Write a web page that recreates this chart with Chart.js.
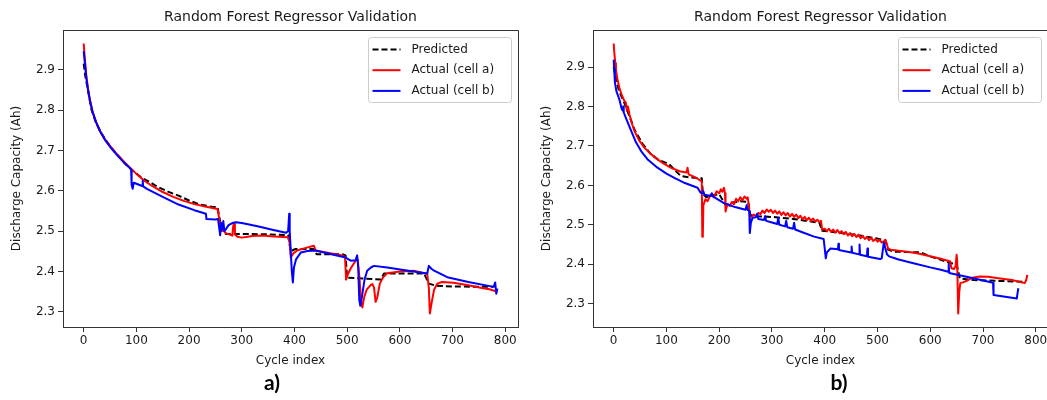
<!DOCTYPE html>
<html>
<head>
<meta charset="utf-8">
<title>Random Forest Regressor Validation</title>
<script src="https://cdn.jsdelivr.net/npm/chart.js@4.4.1/dist/chart.umd.min.js"></script>
<style>
  html, body { margin: 0; padding: 0; background: #fff; overflow: hidden; }
  #wrap { position: relative; width: 1047px; height: 400px; overflow: hidden; }
  canvas { position: absolute; top: 0; }
  #panelA { left: 0; }
  #panelB { left: 530px; }
</style>
</head>
<body>
<div id="wrap">
  <canvas id="panelA" width="530" height="400"></canvas>
  <canvas id="panelB" width="520" height="400"></canvas>
</div>
<script>
// ---- shared labels ----
const chartTitle = 'Random Forest Regressor Validation';
const xAxisTitle = 'Cycle index';
const yAxisTitle = 'Discharge Capacity (Ah)';
const seriesNames = ['Predicted', 'Actual (cell a)', 'Actual (cell b)'];
const panelTags = ['a)', 'b)'];
const xTicks = [0, 100, 200, 300, 400, 500, 600, 700, 800];
const yTicks = [2.3, 2.4, 2.5, 2.6, 2.7, 2.8, 2.9];

// ---- panel a: [cycle, capacity Ah] ----
const predictedA = [
  [0,2.915],[3,2.885],[8,2.85],[15,2.8],[23,2.77],[35,2.74],[50,2.71],[65,2.688],[80,2.665],
  [95,2.648],[110,2.632],[128,2.62],[140,2.61],[160,2.598],[180,2.588],[200,2.576],[220,2.566],
  [245,2.56],[254,2.56],[258,2.53],[263,2.5],[270,2.493],[311,2.493],[355,2.492],[388,2.49],
  [393,2.45],[402,2.456],[437,2.456],[442,2.443],[491,2.443],[497,2.44],[500,2.385],[564,2.38],
  [570,2.395],[646,2.395],[655,2.37],[668,2.365],[700,2.363],[778,2.362]
];
const cellA_A = [
  [0,2.965],[2,2.93],[5,2.885],[8,2.855],[12,2.825],[17,2.795],[23,2.772],[30,2.75],[40,2.728],
  [52,2.708],[65,2.688],[78,2.67],[90,2.655],[100,2.642],[115,2.625],[130,2.612],[150,2.597],
  [170,2.585],[190,2.575],[210,2.567],[230,2.561],[254,2.555],[256,2.54],[259,2.515],[262,2.505],
  [270,2.495],[282,2.489],[284,2.515],[286,2.518],[287,2.492],[292,2.486],[300,2.484],[320,2.488],
  [340,2.489],[360,2.487],[388,2.485],[391,2.47],[393,2.435],[398,2.445],[405,2.452],[420,2.458],
  [437,2.464],[440,2.452],[460,2.447],[491,2.44],[496,2.435],[498,2.38],[502,2.395],[507,2.408],
  [516,2.427],[520,2.43],[523,2.39],[527,2.32],[529,2.311],[532,2.335],[537,2.355],[545,2.367],
  [548,2.369],[551,2.36],[554,2.325],[557,2.335],[562,2.37],[568,2.385],[576,2.396],[600,2.4],
  [627,2.402],[652,2.394],[655,2.36],[657,2.296],[660,2.32],[665,2.355],[671,2.37],[680,2.374],
  [702,2.372],[730,2.366],[753,2.36],[770,2.356],[785,2.35]
];
const cellB_A = [
  [0,2.946],[2,2.92],[5,2.88],[8,2.852],[12,2.822],[17,2.795],[23,2.772],[30,2.75],[40,2.727],
  [52,2.706],[65,2.686],[78,2.668],[88,2.656],[90,2.652],[91,2.615],[93,2.605],[95,2.62],[105,2.615],
  [111,2.612],[112,2.625],[113,2.611],[120,2.605],[150,2.585],[180,2.566],[210,2.552],[232,2.543],
  [233,2.53],[250,2.529],[255,2.53],[257,2.51],[259,2.49],[261,2.52],[263,2.505],[265,2.525],
  [267,2.5],[270,2.505],[275,2.515],[282,2.52],[289,2.522],[300,2.52],[330,2.512],[360,2.503],
  [384,2.496],[388,2.5],[390,2.543],[391,2.5],[393,2.45],[395,2.4],[397,2.373],[399,2.41],
  [403,2.43],[412,2.447],[425,2.451],[440,2.452],[470,2.443],[497,2.435],[500,2.432],[507,2.427],
  [516,2.428],[519,2.44],[521,2.41],[523,2.33],[525,2.315],[529,2.345],[533,2.38],[538,2.402],
  [545,2.41],[551,2.414],[576,2.41],[610,2.403],[652,2.395],[655,2.414],[660,2.407],[665,2.402],
  [690,2.386],[730,2.374],[778,2.362],[781,2.373],[783,2.345],[785,2.358]
];

// ---- panel b: [cycle, capacity Ah] ----
const predictedB = [
  [0,2.9],[3,2.88],[10,2.84],[20,2.81],[30,2.775],[40,2.74],[55,2.705],[70,2.68],[85,2.665],
  [105,2.654],[115,2.64],[127,2.624],[145,2.62],[167,2.618],[169,2.58],[175,2.57],[190,2.575],
  [200,2.578],[212,2.55],[220,2.555],[240,2.56],[255,2.558],[259,2.525],[270,2.522],[300,2.52],
  [340,2.515],[390,2.505],[395,2.485],[430,2.48],[470,2.472],[500,2.465],[515,2.46],[520,2.437],
  [530,2.432],[581,2.43],[600,2.42],[638,2.403],[650,2.4],[656,2.364],[682,2.36],[764,2.356],[780,2.355]
];
const cellA_B = [
  [0,2.96],[1,2.94],[3,2.91],[4.3,2.892],[7,2.87],[10.6,2.849],[15,2.83],[20,2.815],[23,2.81],
  [25,2.79],[27,2.8],[30,2.78],[35,2.755],[39,2.739],[48,2.715],[58,2.696],[70,2.68],[83,2.666],
  [95,2.655],[108,2.645],[125,2.636],[138,2.633],[140,2.645],[142,2.628],[155,2.62],[167,2.61],
  [168,2.47],[169,2.475],[170,2.55],[174,2.565],[178,2.56],[184,2.577],[190,2.57],[195,2.585],
  [200,2.58],[203,2.59],[206,2.584],[209,2.594],[211,2.58],[212,2.534],[214,2.545],[216,2.552],
  [220,2.548],[224,2.558],[228,2.552],[232,2.566],[236,2.56],[240,2.57],[244,2.562],[248,2.572],
  [252,2.566],[254,2.57],[256,2.55],[258,2.522],[262,2.52],[266,2.526],[270,2.522],[274,2.53],
  [278,2.527],[282,2.536],[286,2.53],[290,2.539],[294,2.533],[298,2.538],[302,2.53],[306,2.536],
  [310,2.528],[314,2.534],[318,2.525],[322,2.532],[326,2.524],[330,2.53],[334,2.521],[338,2.528],
  [342,2.52],[346,2.526],[350,2.517],[354,2.523],[358,2.514],[362,2.52],[366,2.512],[370,2.518],
  [374,2.51],[378,2.516],[382,2.508],[386,2.513],[390,2.507],[393,2.51],[395,2.488],[400,2.49],
  [404,2.484],[408,2.49],[412,2.482],[416,2.488],[420,2.48],[424,2.487],[428,2.479],[432,2.484],
  [436,2.476],[440,2.482],[444,2.473],[448,2.479],[452,2.471],[456,2.477],[460,2.469],[464,2.475],
  [468,2.466],[472,2.472],[476,2.464],[480,2.469],[484,2.461],[488,2.467],[492,2.459],[496,2.464],
  [500,2.457],[504,2.462],[508,2.455],[512,2.458],[515,2.462],[517,2.455],[520,2.44],[525,2.437],
  [540,2.434],[560,2.431],[575,2.428],[600,2.42],[620,2.414],[638,2.407],[640,2.39],[645,2.388],
  [648,2.395],[650,2.424],[651,2.41],[653,2.275],[655,2.33],[657,2.352],[662,2.354],[669,2.358],
  [680,2.366],[694,2.369],[710,2.368],[732,2.364],[755,2.36],[779,2.352],[782,2.36],[784,2.373]
];
const cellB_B = [
  [0,2.919],[1,2.895],[2.3,2.862],[5,2.84],[10.6,2.819],[15,2.795],[17,2.79],[18,2.8],[19,2.785],
  [25,2.765],[33,2.739],[42,2.71],[52,2.687],[65,2.665],[83,2.645],[100,2.63],[115,2.619],[135,2.606],
  [159,2.594],[165,2.581],[168,2.58],[170,2.585],[172,2.576],[184,2.573],[186,2.58],[188,2.572],
  [209,2.555],[230,2.545],[250,2.538],[252,2.55],[254,2.538],[257,2.535],[258,2.479],[260,2.505],
  [263,2.517],[270,2.52],[272,2.528],[274,2.515],[285,2.512],[287,2.522],[289,2.51],[300,2.506],
  [310,2.502],[312,2.518],[314,2.5],[325,2.496],[327,2.51],[329,2.494],[340,2.49],[342,2.505],
  [344,2.488],[360,2.48],[380,2.47],[398,2.464],[400,2.44],[402,2.415],[404,2.43],[411,2.44],
  [425,2.438],[426,2.452],[427,2.436],[450,2.43],[451,2.445],[452,2.429],[465,2.425],[466,2.45],
  [467,2.424],[480,2.42],[481,2.44],[482,2.419],[505,2.413],[508,2.415],[512,2.455],[515,2.44],
  [518,2.425],[522,2.42],[540,2.412],[570,2.402],[600,2.392],[620,2.386],[634,2.381],[635,2.4],
  [636,2.378],[660,2.371],[690,2.362],[719,2.353],[720,2.322],[764,2.313],[765,2.322],[767,2.339]
];

// ---- styling ----
const FONT = '"DejaVu Sans", sans-serif';
const INK = '#1a1a1a';
const SPINE = '#333';
const seriesColors = ['#000000', '#ff0000', '#0000ff'];

const toPoints = rows => rows.map(([x, y]) => ({ x, y }));

// axis limits with a 5% margin around the plotted data
function paddedRange(seriesList, idx) {
  let lo = Infinity, hi = -Infinity;
  seriesList.forEach(s => s.forEach(p => { lo = Math.min(lo, p[idx]); hi = Math.max(hi, p[idx]); }));
  const m = (hi - lo) * 0.05;
  return [lo - m, hi + m];
}

// title, top/right frame, framed legend and panel tag
const panelDecor = {
  id: 'panelDecor',
  afterDatasetsDraw(chart) {
    const { ctx, chartArea: a } = chart;
    ctx.save();
    ctx.strokeStyle = SPINE;
    ctx.lineWidth = 1;
    ctx.beginPath();
    ctx.moveTo(a.left, a.top + 0.5);
    ctx.lineTo(a.right + 0.5, a.top + 0.5);
    ctx.lineTo(a.right + 0.5, a.bottom);
    ctx.stroke();
    ctx.restore();
  },
  afterDraw(chart, args, opts) {
    const { ctx, chartArea: a } = chart;
    ctx.save();
    // title over the axes
    ctx.fillStyle = INK;
    ctx.font = '14px ' + FONT;
    ctx.textAlign = 'center';
    ctx.textBaseline = 'middle';
    ctx.fillText(chartTitle, (a.left + a.right) / 2, 17);

    // legend in the upper-right corner
    const w = 143, h = 65;
    const lx = a.right - 7 - w, ly = a.top + 7;
    ctx.beginPath();
    ctx.roundRect(lx + 0.5, ly + 0.5, w, h, 3);
    ctx.fillStyle = 'rgba(255,255,255,0.8)';
    ctx.fill();
    ctx.strokeStyle = '#cccccc';
    ctx.lineWidth = 1;
    ctx.stroke();
    ctx.font = '12px ' + FONT;
    ctx.textAlign = 'left';
    chart.data.datasets.forEach((ds, i) => {
      const ry = ly + 12.5 + i * 20.7;
      ctx.beginPath();
      ctx.setLineDash(ds.borderDash || []);
      ctx.strokeStyle = ds.borderColor;
      ctx.lineWidth = ds.borderWidth;
      ctx.moveTo(lx + 4.5, ry);
      ctx.lineTo(lx + 32.5, ry);
      ctx.stroke();
      ctx.setLineDash([]);
      ctx.fillStyle = INK;
      ctx.fillText(ds.label, lx + 43.5, ry);
    });

    // panel tag below the axis title
    ctx.fillStyle = '#000';
    ctx.font = 'bold 21px Lato, "Liberation Sans", sans-serif';
    ctx.textAlign = 'center';
    ctx.fillText(opts.tag, opts.tagX, 383);
    ctx.restore();
  }
};

function buildPanel(canvasId, series, tag, tagX, rightPad) {
  const [xMin, xMax] = paddedRange(series, 0);
  const [yMin, yMax] = paddedRange(series, 1);
  const dashes = [[6, 3], [], []];
  const layer = [3, 2, 1];
  const datasets = series.map((s, i) => ({
    label: seriesNames[i],
    data: toPoints(s),
    borderColor: seriesColors[i],
    backgroundColor: seriesColors[i],
    borderWidth: 2,
    borderDash: dashes[i],
    borderJoinStyle: 'round',
    pointRadius: 0,
    tension: 0,
    fill: false,
    order: layer[i]
  }));
  return new Chart(document.getElementById(canvasId), {
    type: 'line',
    data: { datasets },
    plugins: [panelDecor],
    options: {
      responsive: false,
      animation: false,
      devicePixelRatio: 1,
      layout: { padding: { top: 30, right: rightPad, left: 0, bottom: 0 } },
      plugins: {
        legend: { display: false },
        tooltip: { enabled: false },
        title: { display: false },
        panelDecor: { tag, tagX }
      },
      scales: {
        x: {
          type: 'linear',
          min: xMin,
          max: xMax,
          afterBuildTicks: s => { s.ticks = xTicks.map(v => ({ value: v })); },
          afterFit: s => { s.height = 73; },
          grid: { drawOnChartArea: false, drawTicks: true, tickLength: 5, tickColor: SPINE, tickWidth: 1 },
          border: { display: true, color: SPINE, width: 1 },
          ticks: { color: INK, font: { family: FONT, size: 12 }, padding: 2, maxRotation: 0, autoSkip: false,
                   callback: v => String(v) },
          title: { display: true, text: xAxisTitle, color: INK, font: { family: FONT, size: 12 },
                   padding: { top: 0, bottom: 31.8 } }
        },
        y: {
          type: 'linear',
          min: yMin,
          max: yMax,
          afterBuildTicks: s => { s.ticks = yTicks.map(v => ({ value: v })); },
          afterFit: s => { s.width = 63; },
          grid: { drawOnChartArea: false, drawTicks: true, tickLength: 5, tickColor: SPINE, tickWidth: 1 },
          border: { display: true, color: SPINE, width: 1 },
          ticks: { color: INK, font: { family: FONT, size: 12 }, padding: 3, autoSkip: false,
                   callback: v => Number(v).toFixed(1) },
          title: { display: true, text: yAxisTitle, color: INK, font: { family: FONT, size: 12 },
                   padding: { top: 9.8, bottom: 0 } }
        }
      }
    }
  });
}

buildPanel('panelA', [predictedA, cellA_A, cellB_A], panelTags[0], 272, 12);
buildPanel('panelB', [predictedB, cellA_B, cellB_B], panelTags[1], 309, 2);
</script>
</body>
</html>
